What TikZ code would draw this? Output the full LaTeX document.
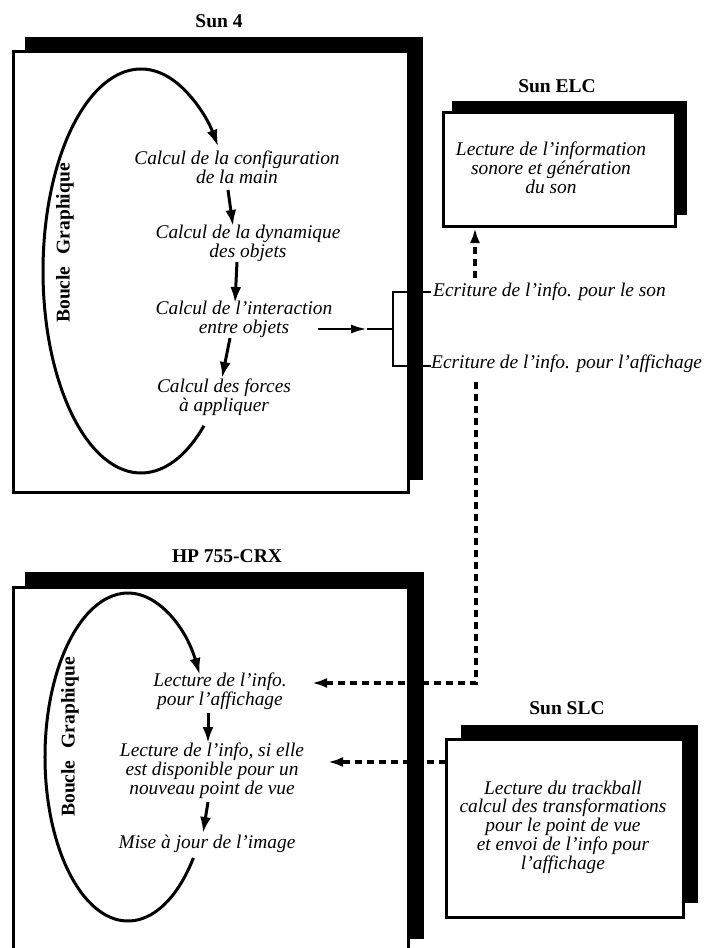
\documentclass[tikz,border=0pt]{standalone}
\usepackage{fontspec}
\setmainfont{Liberation Serif}
\usetikzlibrary{arrows.meta}
\begin{document}
\begin{tikzpicture}[x=1pt,y=-1pt,
  shadowbox/.style={fill=black, draw=none, inner sep=0pt, outer sep=0pt, anchor=north west},
  frontbox/.style={fill=white, draw=black, line width=3pt, inner sep=0pt, outer sep=0pt, anchor=north west},
  titletxt/.style={font=\fontsize{19.5}{22}\selectfont\bfseries, inner sep=0pt},
  looptxt/.style={font=\fontsize{19.5}{22}\selectfont\bfseries, rotate=90, inner sep=0pt},
  txt/.style={font=\fontsize{19.4}{18.8}\selectfont\itshape, align=center, inner sep=0pt},
  flow/.style={line width=3pt, -{Latex[length=16pt,width=11pt]}},
  loopline/.style={line width=3pt, -{Latex[length=17pt,width=11pt]}},
  dsh/.style={line width=3.5pt, dash pattern=on 7pt off 5pt},
  dsharrow/.style={dsh, -{Latex[length=15pt,width=10pt]}},
]
\useasboundingbox (0,0) rectangle (709,948);

% ---------------- Sun 4 ----------------
\node[titletxt] (t4) at (219,21) {Sun 4};
\node[shadowbox, minimum width=398pt, minimum height=443pt] (s4s) at (25,37) {};
\node[frontbox, minimum width=395pt, minimum height=441pt] (s4) at (13,51) {};

\draw[loopline] (141,271) ++(50:98 and 202)
  arc[start angle=50, end angle=322, x radius=98, y radius=202];
\node[looptxt] (bg4) at (65,243) {Boucle\hspace{12pt}Graphique};

\node[txt] (c1) at (237,167) {Calcul de la configuration\\de la main};
\node[txt] (c2) at (248,243) {Calcul de la dynamique\\des objets};
\node[txt] (c3) at (244,319) {Calcul de l’interaction\\entre objets};
\node[txt] (c4) at (224,397) {Calcul des forces\\à appliquer};

\coordinate (a1s) at (228,190); \coordinate (a1e) at (233,226);
\coordinate (a2s) at (237,262); \coordinate (a2e) at (235,303);
\coordinate (a3s) at (230,338); \coordinate (a3e) at (222,378);
\draw[flow] (a1s) -- (a1e);
\draw[flow] (a2s) -- (a2e);
\draw[flow] (a3s) -- (a3e);

% bracket (output port)
\node[draw=black, fill=white, line width=2pt, minimum width=15pt, minimum height=74pt,
      inner sep=0pt, outer sep=0pt, anchor=north west] (br) at (393,292) {};
\coordinate (l1) at (431,292);
\coordinate (l2) at (431,366);
\draw[line width=2pt] (br.north east) -- (l1);
\draw[line width=2pt] (br.south east) -- (l2);

\coordinate (e1) at (318,329);
\coordinate (e2) at (367,329);
\draw[line width=2.5pt, -{Latex[length=16pt,width=9pt]}] (e1) -- (e2);
\draw[line width=2.5pt] (e2) -- (br.west);

\node[txt, anchor=west] (wson) at (433,292) {Ecriture de l’info. pour le son};
\node[txt, anchor=west] (waff) at (431,364) {Ecriture de l’info. pour l’affichage};

% ---------------- Sun ELC ----------------
\node[titletxt] (telc) at (557,86) {Sun ELC};
\node[shadowbox, minimum width=235pt, minimum height=114pt] (elcs) at (452,101) {};
\node[frontbox, minimum width=232pt, minimum height=114pt] (elc) at (443,112) {};
\node[txt] (elct) at (551,168) {Lecture de l’information\\sonore et génération\\du son};

\coordinate (d0) at (475,278);
\coordinate (d0e) at (475,228);
\draw[dsharrow] (d0) -- (d0e);

% ---------------- HP 755-CRX ----------------
\node[titletxt] (thp) at (227,556) {HP 755-CRX};
\node[shadowbox, minimum width=399pt, minimum height=367pt] (hps) at (25,572) {};
\node[frontbox, minimum width=395pt, minimum height=368pt] (hp) at (13,587) {};

\draw[loopline] (128,757) ++(38:83 and 164)
  arc[start angle=38, end angle=330, x radius=83, y radius=164];
\node[looptxt] (bghp) at (70,737) {Boucle\hspace{12pt}Graphique};

\node[txt] (h1) at (220,691) {Lecture de l’info.\\pour l’affichage};
\node[txt] (h2) at (212,771) {Lecture de l’info, si elle\\est disponible pour un\\nouveau point de vue};
\node[txt] (h3) at (207,844) {Mise à jour de l’image};

\coordinate (b1s) at (208,713); \coordinate (b1e) at (208,743);
\coordinate (b2s) at (208,802); \coordinate (b2e) at (203,833);
\draw[flow] (b1s) -- (b1e);
\draw[flow] (b2s) -- (b2e);

% ---------------- Sun SLC ----------------
\node[titletxt] (tslc) at (567,708) {Sun SLC};
\node[shadowbox, minimum width=237pt, minimum height=178pt] (slcs) at (461,725) {};
\node[frontbox, minimum width=237pt, minimum height=178pt] (slc) at (446,739) {};
\node[txt] (slct) at (563,827) {Lecture du trackball\\calcul des transformations\\pour le point de vue\\et envoi de l’info pour\\l’affichage};

% ---------------- dashed links ----------------
\coordinate (d1) at (476,382);
\coordinate (hpin) at (312,683);
\draw[dsharrow] (d1) |- (hpin);

\coordinate (d3) at (446,762);
\coordinate (hpin2) at (328,762);
\draw[dsharrow] (d3) -- (hpin2);
\end{tikzpicture}
\end{document}
